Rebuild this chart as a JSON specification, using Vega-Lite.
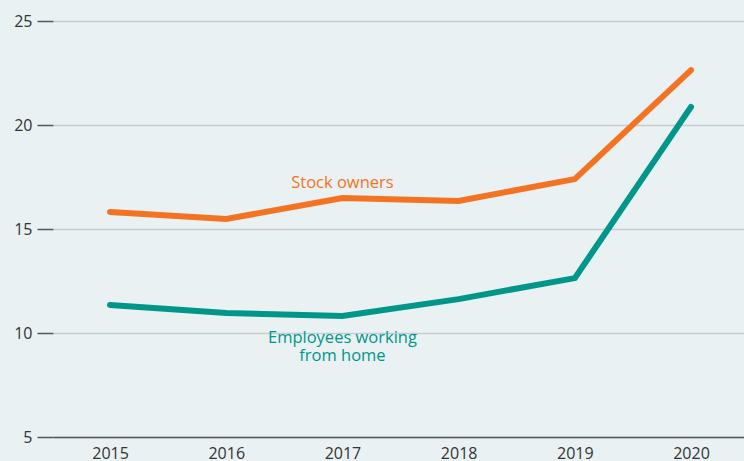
{
  "$schema": "https://vega.github.io/schema/vega-lite/v6.json",
  "width": 691,
  "height": 416,
  "autosize": {"type": "none"},
  "padding": {"left": 53, "top": 21, "right": 0, "bottom": 24},
  "background": "#e9f1f2",
  "config": {
    "view": {"stroke": null},
    "font": "Open Sans"
  },
  "data": {
    "values": [
      {"year": 2015, "series": "Stock owners", "value": 15.82},
      {"year": 2016, "series": "Stock owners", "value": 15.48},
      {"year": 2017, "series": "Stock owners", "value": 16.49},
      {"year": 2018, "series": "Stock owners", "value": 16.35},
      {"year": 2019, "series": "Stock owners", "value": 17.4},
      {"year": 2020, "series": "Stock owners", "value": 22.64},
      {"year": 2015, "series": "Employees working from home", "value": 11.35},
      {"year": 2016, "series": "Employees working from home", "value": 10.96},
      {"year": 2017, "series": "Employees working from home", "value": 10.82},
      {"year": 2018, "series": "Employees working from home", "value": 11.63},
      {"year": 2019, "series": "Employees working from home", "value": 12.64},
      {"year": 2020, "series": "Employees working from home", "value": 20.87}
    ]
  },
  "encoding": {
    "x": {
      "field": "year", "type": "quantitative",
      "scale": {"domain": [2014.509, 2020.456], "nice": false, "zero": false},
      "axis": {
        "title": null, "values": [2015, 2016, 2017, 2018, 2019, 2020], "format": "d",
        "grid": false, "ticks": false, "domainColor": "#555555", "domainWidth": 1.5,
        "labelFontSize": 16, "labelColor": "#333333", "labelPadding": 8, "labelFont": "Open Sans"
      }
    },
    "y": {
      "field": "value", "type": "quantitative",
      "scale": {"domain": [5, 25], "nice": false, "zero": false},
      "axis": {
        "title": null, "values": [5, 10, 15, 20, 25], "domain": false,
        "tickSize": 16, "tickColor": "#555555", "tickWidth": 1.5,
        "gridColor": "#c6cdd0", "gridWidth": 1.5,
        "labelFontSize": 16, "labelColor": "#333333", "labelPadding": 5, "labelFont": "Open Sans"
      }
    },
    "color": {
      "field": "series", "type": "nominal",
      "scale": {"domain": ["Stock owners", "Employees working from home"], "range": ["#f47322", "#00968a"]},
      "legend": null
    }
  },
  "layer": [
    {
      "mark": {"type": "line", "strokeWidth": 6, "strokeCap": "round", "strokeJoin": "miter"}
    },
    {
      "transform": [{"filter": "datum.year == 2017 && datum.series == 'Stock owners'"}],
      "mark": {"type": "text", "fontSize": 16.5, "dy": -10, "baseline": "alphabetic", "align": "center"},
      "encoding": {"text": {"value": "Stock owners"}}
    },
    {
      "transform": [{"filter": "datum.year == 2017 && datum.series == 'Employees working from home'"}],
      "mark": {"type": "text", "fontSize": 16.5, "dy": 27, "baseline": "alphabetic", "align": "center", "lineHeight": 18},
      "encoding": {"text": {"value": ["Employees working", "from home"]}}
    }
  ]
}
